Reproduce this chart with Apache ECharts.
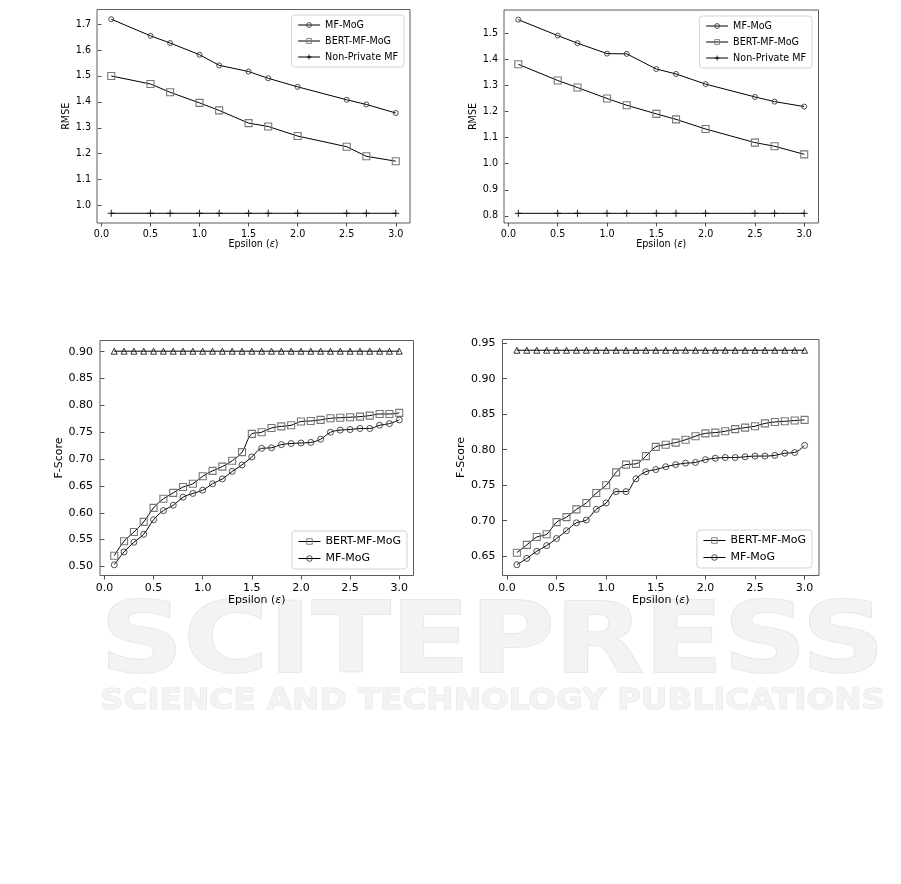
<!DOCTYPE html>
<html><head><meta charset="utf-8">
<script src="https://cdn.jsdelivr.net/npm/echarts@6.0.0/dist/echarts.min.js"></script>
<style>html,body{margin:0;padding:0;background:#fff}#c{width:901px;height:884px}</style>
</head><body><div id="c"></div><script>
// ---- data ----
const rmseEps = [0.1, 0.5, 0.7, 1.0, 1.2, 1.5, 1.7, 2.0, 2.5, 2.7, 3.0];
const rmseA_mfmog = [1.719, 1.655, 1.627, 1.582, 1.541, 1.517, 1.491, 1.458, 1.408, 1.390, 1.357];
const rmseA_bert = [1.500, 1.469, 1.437, 1.396, 1.367, 1.318, 1.305, 1.268, 1.227, 1.190, 1.171];
const rmseA_nonpriv = [0.97, 0.97, 0.97, 0.97, 0.97, 0.97, 0.97, 0.97, 0.97, 0.97, 0.97];
const rmseB_mfmog = [1.552, 1.491, 1.462, 1.422, 1.421, 1.363, 1.344, 1.305, 1.256, 1.238, 1.219];
const rmseB_bert = [1.381, 1.319, 1.292, 1.250, 1.224, 1.191, 1.170, 1.133, 1.081, 1.067, 1.036];
const rmseB_nonpriv = [0.81, 0.81, 0.81, 0.81, 0.81, 0.81, 0.81, 0.81, 0.81, 0.81, 0.81];
const fEps = [0.1, 0.2, 0.3, 0.4, 0.5, 0.6, 0.7, 0.8, 0.9, 1.0, 1.1, 1.2, 1.3, 1.4, 1.5,
              1.6, 1.7, 1.8, 1.9, 2.0, 2.1, 2.2, 2.3, 2.4, 2.5, 2.6, 2.7, 2.8, 2.9, 3.0];
const fA_bert = [0.520, 0.547, 0.564, 0.583, 0.609, 0.626, 0.637, 0.648, 0.654, 0.668, 0.678, 0.686, 0.697, 0.713, 0.747,
                 0.750, 0.758, 0.761, 0.763, 0.770, 0.771, 0.773, 0.776, 0.777, 0.778, 0.779, 0.781, 0.784, 0.784, 0.786];
const fA_mfmog = [0.503, 0.527, 0.545, 0.560, 0.587, 0.604, 0.614, 0.629, 0.636, 0.642, 0.654, 0.663, 0.677, 0.689, 0.704,
                  0.720, 0.721, 0.727, 0.729, 0.730, 0.731, 0.737, 0.750, 0.754, 0.755, 0.757, 0.757, 0.763, 0.766, 0.773];
const fA_nonpriv = [0.901, 0.901, 0.901, 0.901, 0.901, 0.901, 0.901, 0.901, 0.901, 0.901, 0.901, 0.901, 0.901, 0.901, 0.901,
                    0.901, 0.901, 0.901, 0.901, 0.901, 0.901, 0.901, 0.901, 0.901, 0.901, 0.901, 0.901, 0.901, 0.901, 0.901];
const fB_bert = [0.655, 0.666, 0.677, 0.681, 0.698, 0.705, 0.716, 0.725, 0.739, 0.750, 0.768, 0.779, 0.780, 0.791, 0.804,
                 0.807, 0.810, 0.814, 0.819, 0.823, 0.824, 0.826, 0.829, 0.831, 0.833, 0.837, 0.839, 0.840, 0.841, 0.842];
const fB_mfmog = [0.638, 0.647, 0.657, 0.665, 0.675, 0.686, 0.697, 0.701, 0.716, 0.725, 0.741, 0.741, 0.759, 0.769, 0.772,
                  0.776, 0.779, 0.781, 0.782, 0.786, 0.788, 0.789, 0.789, 0.790, 0.791, 0.791, 0.792, 0.795, 0.796, 0.806];
const fB_nonpriv = [0.94, 0.94, 0.94, 0.94, 0.94, 0.94, 0.94, 0.94, 0.94, 0.94, 0.94, 0.94, 0.94, 0.94, 0.94,
                    0.94, 0.94, 0.94, 0.94, 0.94, 0.94, 0.94, 0.94, 0.94, 0.94, 0.94, 0.94, 0.94, 0.94, 0.94];
const xTicks = [0.0, 0.5, 1.0, 1.5, 2.0, 2.5, 3.0];
const rmseA_yTicks = [1.0, 1.1, 1.2, 1.3, 1.4, 1.5, 1.6, 1.7];
const rmseB_yTicks = [0.8, 0.9, 1.0, 1.1, 1.2, 1.3, 1.4, 1.5];
const fA_yTicks = [0.50, 0.55, 0.60, 0.65, 0.70, 0.75, 0.80, 0.85, 0.90];
const fB_yTicks = [0.65, 0.70, 0.75, 0.80, 0.85, 0.90, 0.95];
const nameMF = 'MF-MoG', nameBERT = 'BERT-MF-MoG', nameNP = 'Non-Private MF';
const xLabel = 'Epsilon';

// ---- helpers ----
const FONT = 'DejaVu Sans';
function pad(arrs){
  let lo = Infinity, hi = -Infinity;
  arrs.forEach(a => a.forEach(v => { lo = Math.min(lo, v); hi = Math.max(hi, v); }));
  const m = (hi - lo) * 0.05; return [lo - m, hi + m];
}
function zip(xs, ys){ return xs.map((x, i) => [x, ys[i]]); }
const xr = pad([fEps]);

function xAxis(gi, fs, gap){
  return {
    type: 'value', gridIndex: gi, min: xr[0], max: xr[1],
    splitLine: {show: false}, axisLine: {show: false},
    axisTick: {show: true, customValues: xTicks, length: fs > 10 ? 4 : 3.5, lineStyle: {color: '#222', width: 0.8}},
    axisLabel: {customValues: xTicks, formatter: v => v.toFixed(1), fontFamily: FONT, fontSize: fs, color: '#000', margin: fs > 10 ? 7 : 6},
    name: '{n|' + xLabel + ' (}{e|ε}{n|)}', nameLocation: 'middle', nameGap: gap,
    nameTextStyle: {rich: {n: {fontFamily: FONT, fontSize: fs, color: '#000'}, e: {fontFamily: FONT, fontSize: fs, fontStyle: 'italic', color: '#000'}}}
  };
}
function yAxis(gi, range, ticks, dec, fs, name, gap){
  return {
    type: 'value', gridIndex: gi, min: range[0], max: range[1],
    splitLine: {show: false}, axisLine: {show: false},
    axisTick: {show: true, customValues: ticks, length: fs > 10 ? 4 : 3.5, lineStyle: {color: '#222', width: 0.8}},
    axisLabel: {customValues: ticks, formatter: v => v.toFixed(dec), fontFamily: FONT, fontSize: fs, color: '#000', margin: fs > 10 ? 7 : 6},
    name: name, nameLocation: 'middle', nameGap: gap, nameRotate: 90,
    nameTextStyle: {fontFamily: FONT, fontSize: fs, color: '#000'}
  };
}
const plusSym = 'path://M5,0L5,10M0,5L10,5';
function ser(name, gi, xs, ys, kind, smooth){
  const s = {
    name: name, type: 'line', xAxisIndex: gi, yAxisIndex: gi, data: zip(xs, ys),
    smooth: smooth ? 0.35 : false, animation: false, emphasis: {disabled: true},
    lineStyle: {color: '#000', width: 1}, showAllSymbol: true
  };
  if (kind === 'circle') { s.symbol = 'circle'; s.symbolSize = smooth ? 6 : 5;
    s.itemStyle = {color: 'rgba(255,255,255,0)', borderColor: '#3a3a3a', borderWidth: 0.9}; }
  if (kind === 'rect') { s.symbol = 'rect'; s.symbolSize = 7;
    s.itemStyle = {color: 'rgba(255,255,255,0)', borderColor: '#777', borderWidth: 1.1}; }
  if (kind === 'plus') { s.symbol = plusSym; s.symbolSize = 7;
    s.itemStyle = {color: 'rgba(0,0,0,0)', borderColor: '#000', borderWidth: 0.9}; }
  if (kind === 'tri') { s.symbol = 'triangle'; s.symbolSize = 6;
    s.itemStyle = {color: 'rgba(255,255,255,0)', borderColor: '#000', borderWidth: 0.8}; }
  return s;
}
function legend(names, fs, pos){
  return Object.assign({
    data: names, orient: 'vertical', itemWidth: 22, itemHeight: fs > 10 ? 7 : 6,
    itemGap: fs > 10 ? 6 : 6, padding: [5, 6, 5, 6],
    backgroundColor: 'rgba(255,255,255,0.85)', borderColor: '#d4d4d4', borderWidth: 1, borderRadius: 3,
    lineStyle: {width: 1, color: '#000'}, itemStyle: {borderWidth: 0.9},
    textStyle: {fontFamily: FONT, fontSize: fs, color: '#000'}, selectedMode: false
  }, pos);
}

// ---- watermark sizing ----
const mctx = document.createElement('canvas').getContext('2d');
function tw(t, f){ mctx.font = f; return mctx.measureText(t).width; }
const wm1 = 'SCITEPRESS', wm1f = 'bold 98px "DejaVu Sans"';
const wm2 = 'SCIENCE AND TECHNOLOGY PUBLICATIONS', wm2f = 'bold 29px "DejaVu Sans"';

const chart = echarts.init(document.getElementById('c'), null, {renderer: 'canvas'});
const gridStyle = {show: true, borderColor: '#333', borderWidth: 0.8, backgroundColor: 'transparent'};
chart.setOption({
  animation: false,
  graphic: [
    {type: 'text', x: 100, y: 647, z: -10, scaleX: 785 / tw(wm1, wm1f), silent: true,
     style: {text: wm1, font: wm1f, fill: '#f3f3f3', stroke: '#e4e4e4', lineWidth: 1.5, verticalAlign: 'middle', align: 'left'}},
    {type: 'text', x: 100, y: 701, z: -10, scaleX: 785 / tw(wm2, wm2f), silent: true,
     style: {text: wm2, font: wm2f, fill: '#f3f3f3', stroke: '#e4e4e4', lineWidth: 1, verticalAlign: 'middle', align: 'left'}}
  ],
  grid: [
    Object.assign({left: 97, top: 9.5, width: 313, height: 213.5}, gridStyle),
    Object.assign({left: 504, top: 10, width: 314.5, height: 213}, gridStyle),
    Object.assign({left: 100, top: 340.5, width: 313.5, height: 235}, gridStyle),
    Object.assign({left: 502.5, top: 339.5, width: 316.5, height: 236}, gridStyle)
  ],
  xAxis: [xAxis(0, 9.6, 14), xAxis(1, 9.6, 14), xAxis(2, 11, 17), xAxis(3, 11, 17)],
  yAxis: [
    yAxis(0, pad([rmseA_mfmog, rmseA_bert, rmseA_nonpriv]), rmseA_yTicks, 1, 9.6, 'RMSE', 25),
    yAxis(1, pad([rmseB_mfmog, rmseB_bert, rmseB_nonpriv]), rmseB_yTicks, 1, 9.6, 'RMSE', 22),
    yAxis(2, pad([fA_bert, fA_mfmog, fA_nonpriv]), fA_yTicks, 2, 11, 'F-Score', 34),
    yAxis(3, pad([fB_bert, fB_mfmog, fB_nonpriv]), fB_yTicks, 2, 11, 'F-Score', 33)
  ],
  legend: [
    legend([nameMF, nameBERT, nameNP], 9.6, {right: 497, top: 15}),
    legend([nameMF, nameBERT, nameNP], 9.6, {right: 89, top: 16}),
    legend([nameBERT, nameMF], 11, {right: 494, bottom: 315}),
    legend([nameBERT, nameMF], 11, {right: 89, bottom: 316})
  ],
  series: [
    ser(nameMF, 0, rmseEps, rmseA_mfmog, 'circle', false),
    ser(nameBERT, 0, rmseEps, rmseA_bert, 'rect', false),
    ser(nameNP, 0, rmseEps, rmseA_nonpriv, 'plus', false),
    ser(nameMF, 1, rmseEps, rmseB_mfmog, 'circle', false),
    ser(nameBERT, 1, rmseEps, rmseB_bert, 'rect', false),
    ser(nameNP, 1, rmseEps, rmseB_nonpriv, 'plus', false),
    ser(nameBERT, 2, fEps, fA_bert, 'rect', true),
    ser(nameMF, 2, fEps, fA_mfmog, 'circle', true),
    ser('np3', 2, fEps, fA_nonpriv, 'tri', false),
    ser(nameBERT, 3, fEps, fB_bert, 'rect', true),
    ser(nameMF, 3, fEps, fB_mfmog, 'circle', true),
    ser('np4', 3, fEps, fB_nonpriv, 'tri', false)
  ]
});
</script></body></html>
